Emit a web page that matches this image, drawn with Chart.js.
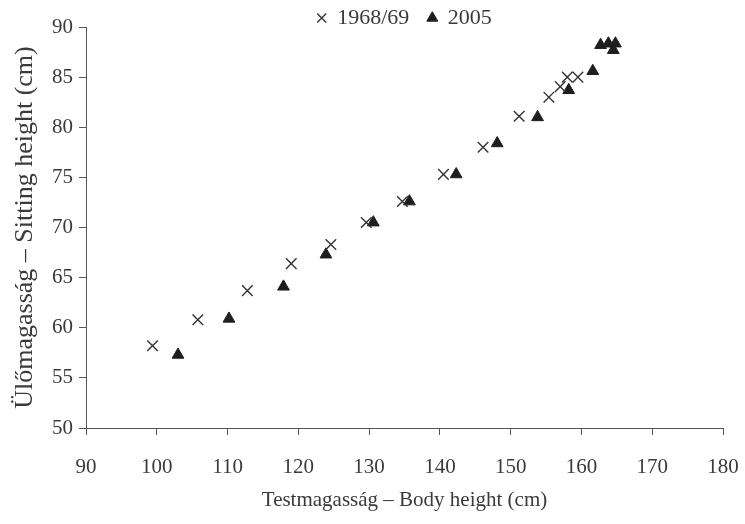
<!DOCTYPE html>
<html>
<head>
<meta charset="utf-8">
<script src="https://cdn.jsdelivr.net/npm/chart.js@4/dist/chart.umd.min.js"></script>
<style>
  html, body { margin: 0; padding: 0; background: #fff; }
  #wrap { width: 745px; height: 524px; }
</style>
</head>
<body>
<div id="wrap"><canvas id="myChart" width="745" height="524"></canvas></div>
<script>
// 1968/69 measurements
var height1968 = [99.4, 105.8, 112.8, 119.0, 124.6, 129.6, 134.7, 140.5, 146.1, 151.2, 155.4, 157.0, 158.0, 159.5];
var sitting1968 = [58.2, 60.8, 63.7, 66.4, 68.3, 70.5, 72.6, 75.3, 78.0, 81.1, 83.0, 84.05, 85.0, 85.0];
// 2005 measurements
var height2005 = [103.0, 110.2, 117.9, 123.9, 130.6, 135.7, 142.3, 148.1, 153.8, 158.2, 161.6, 162.7, 163.8, 164.8, 164.5];
var sitting2005 = [57.3, 60.9, 64.1, 67.3, 70.5, 72.6, 75.3, 78.4, 81.0, 83.7, 85.6, 88.2, 88.35, 88.35, 87.7];

var xTicks = [90, 100, 110, 120, 130, 140, 150, 160, 170, 180];
var yTicks = [50, 55, 60, 65, 70, 75, 80, 85, 90];

var seriesNames = ['1968/69', '2005'];
var xTitle = 'Testmagasság – Body height (cm)';
var yTitle = 'Ülőmagasság – Sitting height (cm)';

function toPoints(xs, ys) {
    let pts = [];
    for (let i = 0; i < xs.length; i++) {
        pts.push({x: xs[i], y: ys[i]});
    }
    return pts;
}

var serif = "'Liberation Serif', 'DejaVu Serif', serif";
var inkColor = '#3a3a3a';
var axisColor = '#555';

var ctx = document.getElementById('myChart');

var myChart = new Chart(ctx, {
    type: 'scatter',
    data: {
        datasets: [{
            label: seriesNames[0],
            data: toPoints(height1968, sitting1968),
            pointStyle: 'crossRot',
            pointRadius: 7.5,
            pointBorderWidth: 1.4,
            borderColor: '#333',
            backgroundColor: '#333'
        }, {
            label: seriesNames[1],
            data: toPoints(height2005, sitting2005),
            pointStyle: 'triangle',
            pointRadius: 6.8,
            pointBorderWidth: 1,
            borderColor: '#1e1e1e',
            backgroundColor: '#1e1e1e'
        }]
    },
    options: {
        responsive: false,
        animation: false,
        layout: {
            // legend sits tight above the plot, hence the negative top
            padding: {top: -11.5, right: 22, bottom: 6, left: 8}
        },
        plugins: {
            tooltip: {enabled: false},
            legend: {
                position: 'top',
                fullSize: false,
                maxHeight: 38.5,
                labels: {
                    usePointStyle: true,
                    boxWidth: 9,
                    boxHeight: 9,
                    padding: 18.5,
                    color: inkColor,
                    font: {family: serif, size: 22, lineHeight: 1}
                }
            }
        },
        scales: {
            x: {
                type: 'linear',
                min: 90,
                max: 180,
                afterBuildTicks: function(scale) {
                    scale.ticks = xTicks.map(v => ({value: v}));
                },
                afterFit: function(scale) {
                    scale.height = 524 - 428 - 6;
                    // label padding would otherwise pull the right edge in
                    scale.paddingLeft = 0;
                    scale.paddingRight = 0;
                },
                ticks: {
                    color: inkColor,
                    padding: 20,
                    maxRotation: 0,
                    font: {family: serif, size: 21}
                },
                grid: {
                    display: true,
                    drawOnChartArea: false,
                    drawTicks: true,
                    tickLength: 7,
                    color: axisColor
                },
                border: {display: true, color: axisColor, width: 1},
                title: {
                    display: true,
                    text: xTitle,
                    color: inkColor,
                    padding: {top: 8, bottom: 5},
                    font: {family: serif, size: 21}
                }
            },
            y: {
                type: 'linear',
                min: 50,
                max: 90,
                afterBuildTicks: function(scale) {
                    scale.ticks = yTicks.map(v => ({value: v}));
                },
                afterFit: function(scale) {
                    scale.width = 86 - 8;
                },
                ticks: {
                    color: inkColor,
                    padding: 6,
                    font: {family: serif, size: 21}
                },
                grid: {
                    display: true,
                    drawOnChartArea: false,
                    drawTicks: true,
                    tickLength: 7,
                    color: axisColor
                },
                border: {display: true, color: axisColor, width: 1},
                title: {
                    display: true,
                    text: yTitle,
                    color: inkColor,
                    padding: {top: 2, bottom: 4},
                    font: {family: serif, size: 26}
                }
            }
        }
    }
});
</script>
</body>
</html>
